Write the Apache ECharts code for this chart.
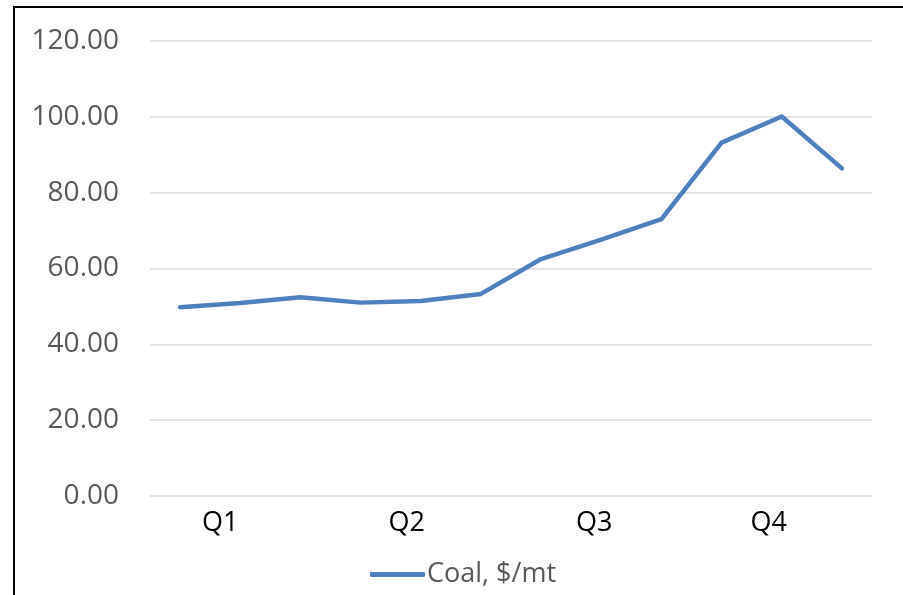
<!DOCTYPE html>
<html>
<head>
<meta charset="utf-8">
<script src="https://cdn.jsdelivr.net/npm/echarts@6/dist/echarts.min.js"></script>
<style>
html,body{margin:0;padding:0;background:#fff;overflow:hidden;}
#chart{position:absolute;left:0;top:0;width:903px;height:595px;}
#frame{position:absolute;left:13px;top:6px;width:892px;height:600px;box-sizing:border-box;border:2.5px solid #000;pointer-events:none;}
</style>
</head>
<body>
<div id="chart"></div>
<div id="frame"></div>
<script>
const months = ['1','2','3','4','5','6','7','8','9','10','11','12'];
const quarterLabels = ['', 'Q1', '', '', 'Q2', '', '', 'Q3', '', '', 'Q4', ''];
const coal = [49.8, 50.9, 52.4, 51.0, 51.4, 53.3, 62.5, 67.6, 73.0, 93.2, 100.1, 86.4];
const yTicks = { min: 0, max: 120, interval: 20 };
const seriesName = 'Coal, $/mt';

const chart = echarts.init(document.getElementById('chart'));
const qStyle = {
  Q1: [0, 40, 0, 0],
  Q2: [0, 28, 0, 0],
  Q3: [0, 14, 0, 0],
  Q4: [0, 26, 0, 0]
};
const rich = {};
Object.keys(qStyle).forEach(k => {
  rich[k] = { padding: qStyle[k], fontSize: 27, color: '#000', fontFamily: 'Open Sans' };
});
chart.setOption({
  animation: false,
  backgroundColor: '#fff',
  grid: { left: 150, right: 31, top: 41, bottom: 99 },
  xAxis: {
    type: 'category',
    data: months,
    boundaryGap: true,
    axisLine: { show: false },
    axisTick: { show: false },
    axisLabel: {
      interval: 0,
      margin: 14,
      formatter: (v, i) => quarterLabels[i] ? '{' + quarterLabels[i] + '|' + quarterLabels[i] + '}' : '',
      rich: rich
    }
  },
  yAxis: {
    type: 'value',
    min: yTicks.min, max: yTicks.max, interval: yTicks.interval,
    axisLine: { show: false },
    axisTick: { show: false },
    splitLine: { lineStyle: { color: '#d9d9d9', width: 1.5 } },
    axisLabel: {
      margin: 31,
      fontSize: 28,
      color: '#595959',
      fontFamily: 'Open Sans',
      formatter: v => v.toFixed(2)
    }
  },
  legend: {
    left: 365,
    top: 556,
    icon: 'roundRect',
    itemWidth: 55,
    itemHeight: 5,
    itemGap: 10,
    textStyle: { fontSize: 27, color: '#595959', fontFamily: 'Open Sans', padding: [0, 0, 0, -3] },
    data: [seriesName]
  },
  series: [{
    name: seriesName,
    type: 'line',
    data: coal,
    symbol: 'none',
    showSymbol: false,
    lineStyle: { color: '#4e80bd', width: 4.5, cap: 'round', join: 'round' },
    itemStyle: { color: '#4e80bd' }
  }]
});
</script>
</body>
</html>
